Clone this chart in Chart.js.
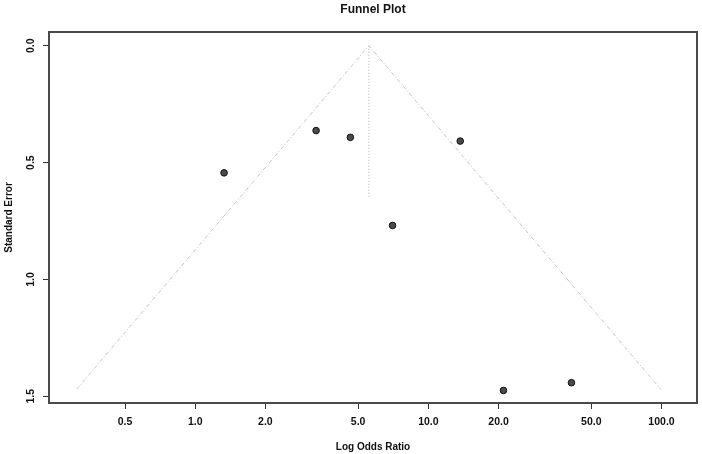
<!DOCTYPE html>
<html>
<head>
<meta charset="utf-8">
<script src="https://cdn.jsdelivr.net/npm/chart.js@4"></script>
<style>
  html, body { margin: 0; padding: 0; background: #fff; }
  #wrap { width: 702px; height: 454px; }
</style>
</head>
<body>
<div id="wrap"><canvas id="funnel" width="702" height="454"></canvas></div>
<script>
// ── DATA ─────────────────────────────────────────────────────────────────────
const oddsRatios  = [1.33, 3.30, 4.63, 13.7, 7.02, 21.0, 41.1];
const stdErrors   = [0.544, 0.363, 0.392, 0.408, 0.769, 1.475, 1.442];

// funnel outline: left foot, apex, right foot
const funnelX = [0.31, 5.56, 99.2];
const funnelY = [1.47, 0, 1.47];

// pooled estimate reference line
const centerX = [5.56, 5.56];
const centerY = [0, 0.65];

const xTicks      = [0.5, 1, 2, 5, 10, 20, 50, 100];
const xTickLabels = ['0.5', '1.0', '2.0', '5.0', '10.0', '20.0', '50.0', '100.0'];
const yTicks      = [0, 0.5, 1, 1.5];
const yTickLabels = ['0.0', '0.5', '1.0', '1.5'];

const toPts = (xs, ys) => xs.map((x, i) => ({ x, y: ys[i] }));

// ── R-STYLE FRAME, TITLES, TICK LABELS ──────────────────────────────────────
const FONT = '"Liberation Sans", Arial, sans-serif';

const rFrame = {
  id: 'rFrame',
  afterDraw(chart) {
    const { ctx, chartArea: a, scales } = chart;
    ctx.save();

    // box
    ctx.strokeStyle = '#4a4a4a';
    ctx.lineWidth = 2;
    ctx.strokeRect(a.left, a.top, a.right - a.left, a.bottom - a.top);

    ctx.fillStyle = '#111';
    ctx.textAlign = 'center';
    ctx.textBaseline = 'middle';

    // title
    ctx.font = 'bold 12px ' + FONT;
    ctx.fillText('Funnel Plot', (a.left + a.right) / 2, 10);

    // x tick labels
    ctx.font = 'bold 10.5px ' + FONT;
    xTicks.forEach((v, i) => {
      ctx.fillText(xTickLabels[i], scales.x.getPixelForValue(v), 422);
    });

    // y tick labels, rotated
    yTicks.forEach((v, i) => {
      ctx.save();
      ctx.translate(31, scales.y.getPixelForValue(v));
      ctx.rotate(-Math.PI / 2);
      ctx.fillText(yTickLabels[i], 0, 0);
      ctx.restore();
    });

    // axis titles
    ctx.font = 'bold 10px ' + FONT;
    ctx.fillText('Log Odds Ratio', (a.left + a.right) / 2, 447);

    ctx.save();
    ctx.translate(9, (a.top + a.bottom) / 2);
    ctx.rotate(-Math.PI / 2);
    ctx.fillText('Standard Error', 0, 0);
    ctx.restore();

    ctx.restore();
  }
};

// ── CHART ────────────────────────────────────────────────────────────────────
new Chart(document.getElementById('funnel'), {
  type: 'scatter',
  data: {
    datasets: [
      {
        type: 'line',
        data: toPts(funnelX, funnelY),
        borderColor: '#c4c4c4',
        borderWidth: 1,
        borderDash: [4, 2, 1, 2],
        pointRadius: 0,
        fill: false,
        tension: 0,
      },
      {
        type: 'line',
        data: toPts(centerX, centerY),
        borderColor: '#b0b0b0',
        borderWidth: 1,
        borderDash: [1, 2],
        pointRadius: 0,
        fill: false,
      },
      {
        data: toPts(oddsRatios, stdErrors),
        backgroundColor: '#4a4a4a',
        borderColor: '#111',
        borderWidth: 1,
        pointRadius: 3.3,
      },
    ]
  },
  options: {
    responsive: false,
    animation: false,
    devicePixelRatio: 1,
    layout: { padding: { top: 32, right: 4, left: 0, bottom: 0 } },
    scales: {
      x: {
        type: 'logarithmic',
        min: 0.236,
        max: 142,
        afterBuildTicks: s => { s.ticks = xTicks.map(v => ({ value: v })); },
        afterFit: s => { s.height = 51; },
        ticks: { display: false },
        grid: { drawOnChartArea: false, drawTicks: true, tickLength: 6, color: '#333', lineWidth: 1 },
        border: { display: false },
      },
      y: {
        type: 'linear',
        reverse: true,
        min: -0.0588,
        max: 1.5288,
        afterBuildTicks: s => { s.ticks = yTicks.map(v => ({ value: v })); },
        afterFit: s => { s.width = 49; },
        ticks: { display: false },
        grid: { drawOnChartArea: false, drawTicks: true, tickLength: 6, color: '#333', lineWidth: 1 },
        border: { display: false },
      }
    },
    plugins: {
      legend: { display: false },
      tooltip: { enabled: false },
    }
  },
  plugins: [rFrame]
});
</script>
</body>
</html>
